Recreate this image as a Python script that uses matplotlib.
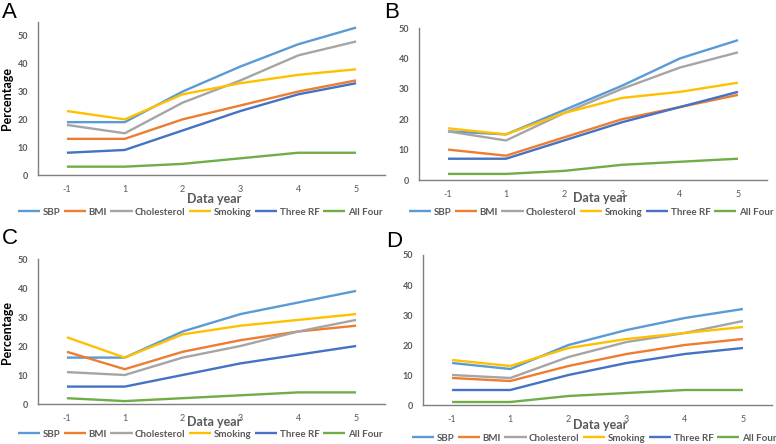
import numpy as np
import matplotlib
matplotlib.use("Agg")
import matplotlib.pyplot as plt

plt.rcParams['font.family'] = ['Lato', 'DejaVu Sans']

years = ['-1', '1', '2', '3', '4', '5']
series_names = ['SBP', 'BMI', 'Cholesterol', 'Smoking', 'Three RF', 'All Four']
colors = ['#5B9BD5', '#ED7D31', '#A5A5A5', '#FFC000', '#4472C4', '#70AD47']

# panel A
a_sbp = [19, 19, 30, 39, 47, 53]
a_bmi = [13, 13, 20, 25, 30, 34]
a_chol = [18, 15, 26, 34, 43, 48]
a_smok = [23, 20, 29, 33, 36, 38]
a_three = [8, 9, 16, 23, 29, 33]
a_four = [3, 3, 4, 6, 8, 8]

# panel B
b_sbp = [16, 15, 23, 31, 40, 46]
b_bmi = [10, 8, 14, 20, 24, 28]
b_chol = [16, 13, 22, 30, 37, 42]
b_smok = [17, 15, 22, 27, 29, 32]
b_three = [7, 7, 13, 19, 24, 29]
b_four = [2, 2, 3, 5, 6, 7]

# panel C
c_sbp = [16, 16, 25, 31, 35, 39]
c_bmi = [18, 12, 18, 22, 25, 27]
c_chol = [11, 10, 16, 20, 25, 29]
c_smok = [23, 16, 24, 27, 29, 31]
c_three = [6, 6, 10, 14, 17, 20]
c_four = [2, 1, 2, 3, 4, 4]

# panel D
d_sbp = [14, 12, 20, 25, 29, 32]
d_bmi = [9, 8, 13, 17, 20, 22]
d_chol = [10, 9, 16, 21, 24, 28]
d_smok = [15, 13, 19, 22, 24, 26]
d_three = [5, 5, 10, 14, 17, 19]
d_four = [1, 1, 3, 4, 5, 5]

W, H = 776, 444
fig = plt.figure(figsize=(W / 100, H / 100), dpi=100)

def fx(px):
    return px / W

def fy(py):
    return 1 - py / H

# letter, axes box (x0, x1, ytop, ybot), ymax, data, ylabel y, letter pos, xlabel pos, legend pos
panels = [
    ('A', (38, 385, 22, 175), 55, [a_sbp, a_bmi, a_chol, a_smok, a_three, a_four],
     98, (2, 2), (214, 199), (200, 212)),
    ('B', (419, 767, 28, 180), 50, [b_sbp, b_bmi, b_chol, b_smok, b_three, b_four],
     None, (384, 2), (600, 198), (591, 212)),
    ('C', (38, 385, 259, 404), 50, [c_sbp, c_bmi, c_chol, c_smok, c_three, c_four],
     332, (2, 228), (214, 422), (200, 434)),
    ('D', (423, 772, 255, 405), 50, [d_sbp, d_bmi, d_chol, d_smok, d_three, d_four],
     None, (386, 231), (600, 425), (594, 438)),
]

x = np.arange(len(years))
for letter, box, ymax, data, ylab_y, let_pos, xl_pos, leg_pos in panels:
    x0, x1, yt, yb = box
    ax = fig.add_axes([fx(x0), fy(yb), (x1 - x0) / W, (yb - yt) / H])
    for vals, name, c in zip(data, series_names, colors):
        ax.plot(x, vals, color=c, lw=1.7, label=name, solid_capstyle='butt')
    ax.set_xlim(-0.5, 5.5)
    ax.set_ylim(0, ymax)
    ax.set_yticks(range(0, 51, 10))
    ax.set_xticks(x)
    ax.set_xticklabels(years)
    ax.tick_params(length=0, labelsize=6.5, colors='#595959', pad=7)
    ax.tick_params(axis='y', pad=7)
    for lbl in ax.get_yticklabels():
        lbl.set_fontweight('bold')
    for s in ['top', 'right']:
        ax.spines[s].set_visible(False)
    for s in ['left', 'bottom']:
        ax.spines[s].set_color('#7f7f7f')
        ax.spines[s].set_linewidth(1.0)
    fig.text(fx(xl_pos[0]), fy(xl_pos[1]), 'Data year', fontsize=9, fontweight='bold',
             color='#595959', ha='center', va='center')
    if ylab_y is not None:
        fig.text(fx(7), fy(ylab_y), 'Percentage', fontsize=9, fontweight='bold',
                 color='black', rotation=90, ha='center', va='center')
    handles, labels = ax.get_legend_handles_labels()
    leg = fig.legend(handles, labels, loc='center', bbox_to_anchor=(fx(leg_pos[0]), fy(leg_pos[1])),
                     ncol=6, frameon=False, fontsize=7, handlelength=2.3, handletextpad=0.25,
                     columnspacing=0.35, borderaxespad=0, borderpad=0)
    for t in leg.get_texts():
        t.set_color('#595959')
        t.set_fontweight('bold')
    fig.text(fx(let_pos[0]), fy(let_pos[1]), letter, fontsize=16, va='top', ha='left',
             family='Liberation Sans')

fig.savefig('out.png', dpi=100)
